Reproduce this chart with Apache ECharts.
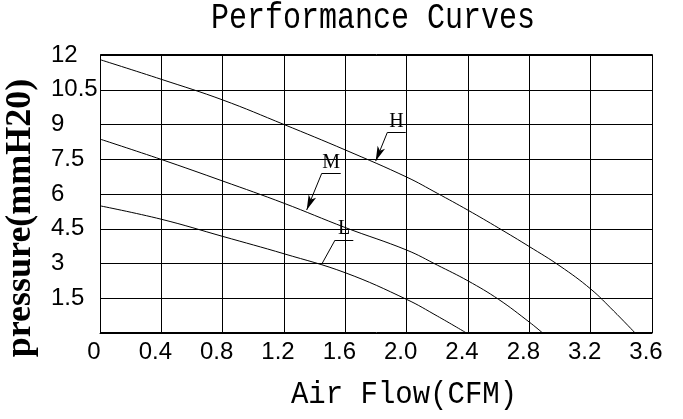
<!DOCTYPE html>
<html>
<head>
<meta charset="utf-8">
<script src="https://cdn.jsdelivr.net/npm/echarts@6/dist/echarts.min.js"></script>
<style>
html,body{margin:0;padding:0;background:#fff;}
#chart{width:683px;height:419px;}
</style>
</head>
<body>
<div id="chart"></div>
<script>
// ---- data ----
const flowH = [0, 0.4, 0.8, 1.2, 1.6, 2.0, 2.2, 2.4, 2.6, 2.8, 3.0, 3.2, 3.35, 3.49];
const presH = [11.8, 10.95, 10.06, 9.0, 7.9, 6.73, 6.03, 5.3, 4.53, 3.73, 2.89, 1.9, 0.95, 0];
const flowM = [0, 0.4, 0.8, 1.2, 1.6, 2.0, 2.2, 2.4, 2.6, 2.8, 2.887];
const presM = [8.37, 7.49, 6.56, 5.6, 4.55, 3.58, 2.93, 2.25, 1.45, 0.47, 0];
const flowL = [0, 0.4, 0.8, 1.2, 1.6, 2.0, 2.2, 2.39];
const presL = [5.49, 4.91, 4.17, 3.42, 2.6, 1.45, 0.73, 0];
const seriesNames = ['H', 'M', 'L'];
// annotation anchor points (data units): label underline start/end and pointer tip
const noteH = {u0: [1.874, 8.66], u1: [1.994, 8.66], tip: [1.798, 7.42]};
const noteM = {u0: [1.446, 6.89], u1: [1.570, 6.89], tip: [1.348, 5.31]};
const noteL = {u0: [1.533, 4.01], u1: [1.652, 4.01], tip: [1.446, 2.97]};
const xTicks = ['0', '0.4', '0.8', '1.2', '1.6', '2.0', '2.4', '2.8', '3.2', '3.6'];
const yTicks = ['', '1.5', '3', '4.5', '6', '7.5', '9', '10.5', '12'];
const titleText = 'Performance Curves';
const xName = 'Air Flow(CFM)';
const yName = 'pressure(mmH20)';

function pairs(xs, ys) { return xs.map((x, i) => [x, ys[i]]); }

function notes(name, n, arrow) {
  return {
    silent: true,
    animation: false,
    symbol: 'none',
    lineStyle: {color: '#000', width: 1, type: 'solid'},
    label: {show: false},
    emphasis: {disabled: true},
    data: [
      [
        {coord: n.u0, symbol: 'none', label: {show: true, position: 'insideMiddleTop', formatter: name,
          color: '#000', fontFamily: 'Liberation Serif', fontSize: 20, distance: 1}},
        {coord: n.u1, symbol: 'none'}
      ],
      [
        {coord: n.u0, symbol: 'none', label: {show: false}},
        {coord: n.tip, symbol: arrow ? 'arrow' : 'none', symbolSize: [6, 15]}
      ]
    ]
  };
}

const chart = echarts.init(document.getElementById('chart'), null, {renderer: 'canvas'});
const curveStyle = {color: '#000', width: 1};
chart.setOption({
  animation: false,
  backgroundColor: '#fff',
  grid: {left: 100, right: 31, top: 55, bottom: 86},
  xAxis: {
    type: 'value', min: 0, max: 3.6, interval: 0.4,
    axisLine: {show: true, lineStyle: {color: '#000', width: 1}},
    axisTick: {show: false},
    splitLine: {show: true, lineStyle: {color: '#000', width: 1}},
    axisLabel: {
      color: '#000', fontFamily: 'Liberation Sans', fontSize: 24, margin: 7,
      padding: [0, 12, 0, 0],
      formatter: (v) => xTicks[Math.round(v / 0.4)]
    }
  },
  yAxis: {
    type: 'value', min: 0, max: 12, interval: 1.5,
    axisLine: {show: true, lineStyle: {color: '#000', width: 1}},
    axisTick: {show: false},
    splitLine: {show: true, lineStyle: {color: '#000', width: 1}},
    axisLabel: {
      color: '#000', fontFamily: 'Liberation Sans', fontSize: 24, margin: 49, align: 'left',
      formatter: (v) => yTicks[Math.round(v / 1.5)]
    }
  },
  graphic: [
    {type: 'rect', shape: {x: 100.5, y: 54.5, width: 552, height: 278}, style: {fill: 'none', stroke: '#000', lineWidth: 1}, silent: true, z: 10},
    {type: 'text', x: 373, y: 18, scaleY: 1.25, silent: true,
      style: {text: titleText, fill: '#000', font: '30px "Liberation Mono"', align: 'center', verticalAlign: 'middle', textAlign: 'center', textVerticalAlign: 'middle'}},
    {type: 'text', x: 404, y: 395, scaleY: 1.1, silent: true,
      style: {text: xName, fill: '#000', font: '29px "Liberation Mono"', align: 'center', verticalAlign: 'middle', textAlign: 'center', textVerticalAlign: 'middle'}},
    {type: 'text', x: 21, y: 218, rotation: Math.PI / 2, silent: true,
      style: {text: yName, fill: '#000', font: 'bold 36px "Liberation Serif"', align: 'center', verticalAlign: 'middle', textAlign: 'center', textVerticalAlign: 'middle'}}
  ],
  series: [
    {name: seriesNames[0], type: 'line', smooth: 0.4, symbol: 'none', lineStyle: curveStyle, data: pairs(flowH, presH), markLine: notes('H', noteH, true), z: 5},
    {name: seriesNames[1], type: 'line', smooth: 0.4, symbol: 'none', lineStyle: curveStyle, data: pairs(flowM, presM), markLine: notes('M', noteM, true), z: 5},
    {name: seriesNames[2], type: 'line', smooth: 0.4, symbol: 'none', lineStyle: curveStyle, data: pairs(flowL, presL), markLine: notes('L', noteL, false), z: 5}
  ]
});
</script>
</body>
</html>
